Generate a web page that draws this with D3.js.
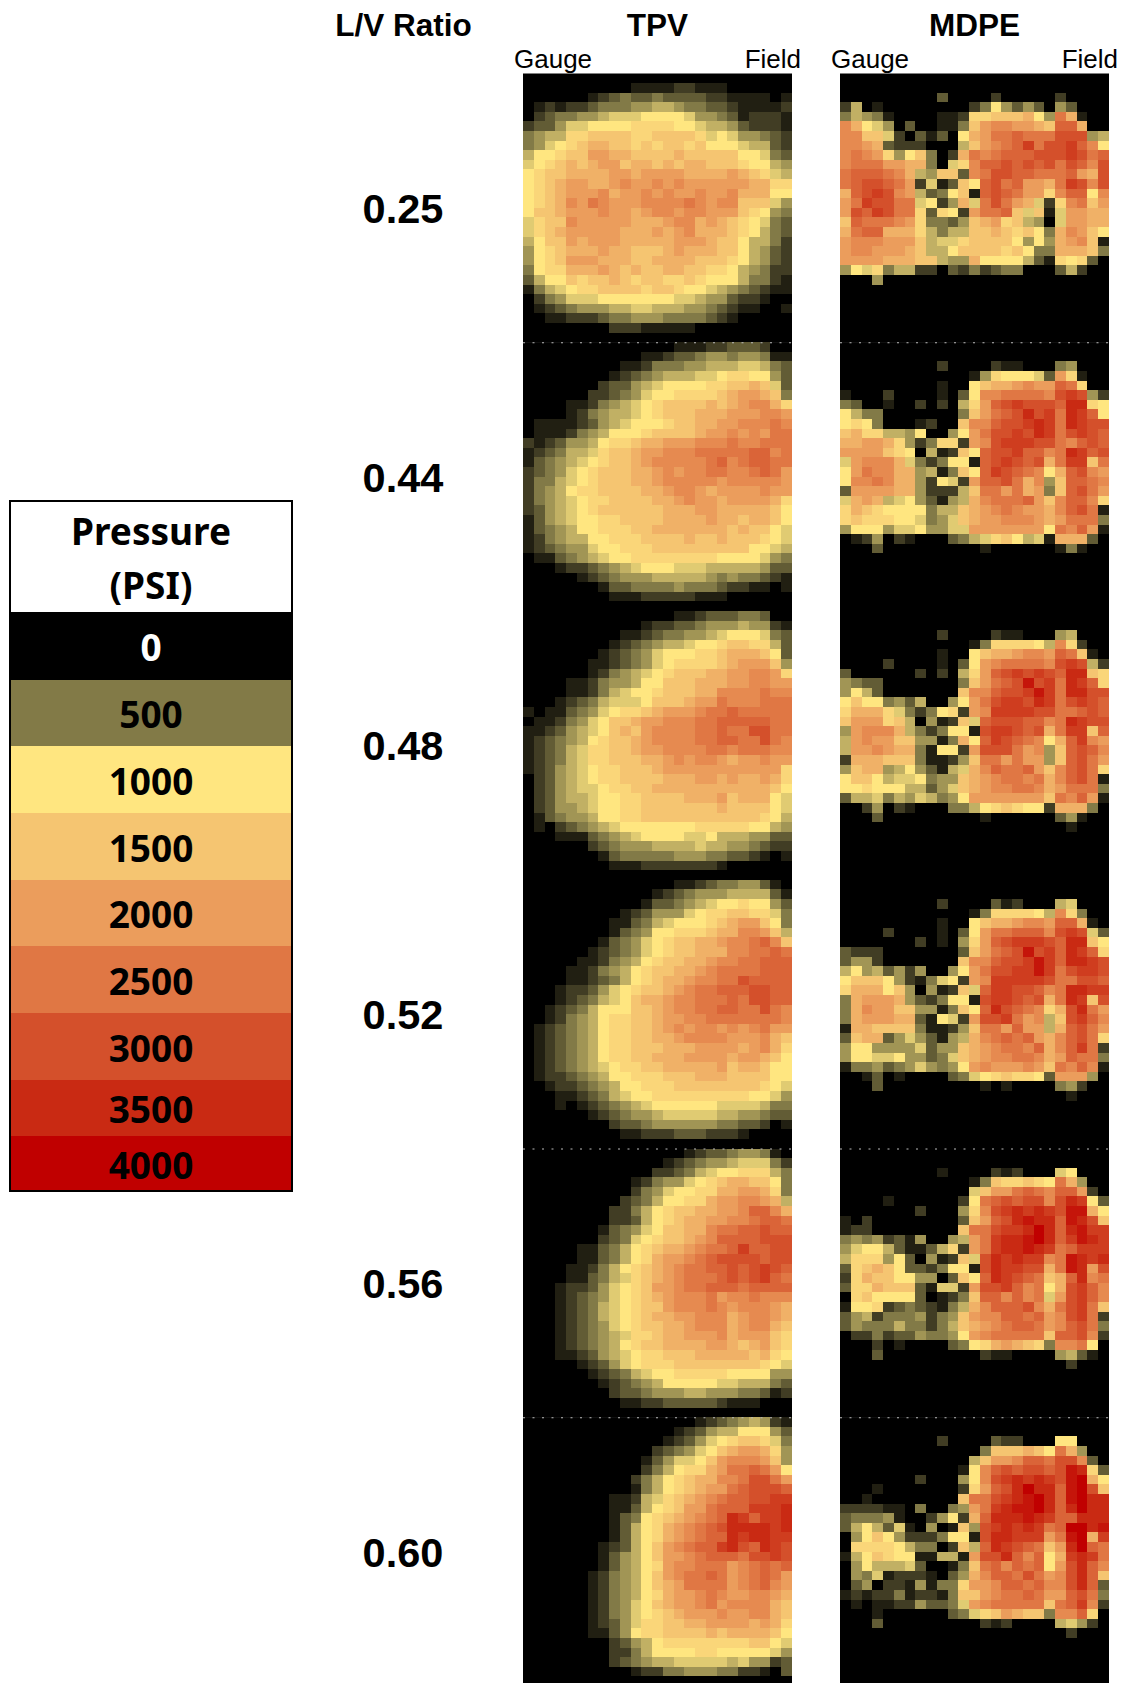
<!DOCTYPE html>
<html lang="en">
<head>
<meta charset="UTF-8">
<title>Pressure maps by L/V ratio</title>
<script src="https://d3js.org/d3.v7.min.js"></script>
<style>
    body { margin: 0; background: #fff; }
    svg { display: block; }
    .head { font-family: "Liberation Sans", Arial, sans-serif; font-weight: 700; }
    .side { font-family: "Liberation Sans", Arial, sans-serif; }
    .legend-text { font-family: "Noto Sans", sans-serif; font-weight: 700; font-size: 37px; }
</style>
</head>
<body>
<script>
// Each row string is one row of a map, each character an index into pressureSteps
const pressureSteps = [0, 125, 250, 375, 500, 625, 750, 875, 1000, 1250, 1500, 1750, 2000, 2250, 2500, 2750, 3000, 3250, 3500, 3750, 4000];
const stepKeys = "0123456789abcdefghijk";

const ratios = ["0.25", "0.44", "0.48", "0.52", "0.56", "0.60"];
const materials = ["TPV", "MDPE"];
const legendValues = [0, 500, 1000, 1500, 2000, 2500, 3000, 3500, 4000];
const legendColors = ["#000000", "#827a47", "#ffe680", "#f5c571", "#eb9d5c", "#e07744", "#d4502b", "#c92a13", "#c00000"];

const tpv025 = [
"0000000000000000000000000",
"0000000000111122111000000",
"0000001234334333322111101",
"0121223444556654433211112",
"0234455677788887554312221",
"2335778888999988766532221",
"456699aaaa99aaaa978755432",
"45789abbaa9a9aa9a88876632",
"6889aaccbbaaaabaaaaa88743",
"789ababccabbababbaaa98865",
"89aabbbbccbccccbbbbcba976",
"89abccbbcdccdcdccccccbb99",
"89abcccdbccdcdccdccdbbb88",
"89abdcedcccddddedcddaaa75",
"8aabcccdccbcddcddccca9854",
"79aadcccccbbbcddbcba98743",
"79abcccccbbbcbcdbbba98643",
"68aacbcccbbbbbcccbaa86642",
"589abbbcbbaaabcbbbaa86532",
"589acccbbbaabbbbaaa986532",
"4899bbbcbabaabbaa99865422",
"3688a9aaba9aa99a988864421",
"1467899aaaa9aa98876543211",
"0245777888888877655322100",
"0123455566776665543211001",
"0011222344555444432100000",
"0000000022211111000000000",
"0000000000000000000000000"];

const tpv044 = [
"0000000000000011122333200",
"0000000000011233455455411",
"0000000001124445566677643",
"0000000012345666778998853",
"0000000233567888899aaba73",
"000000223457889999abccba4",
"0000112456789aaaababcddb9",
"0000124566789aaabbbcccddc",
"01111235678889aabbccddded",
"011124568889aaaabccdcdcee",
"2123556899abbcccdddeddeee",
"12346679aabccdddeeeeeffde",
"13456789aabcdddddefdeffee",
"2345789aaabbcdcddeeddefec",
"2446789aaabbcdddddcdddddc",
"2456899aaaabbcddcbccccdcc",
"24567899aaaabbcdccbccccb9",
"2356789aaaaaabbbccbbbbba8",
"135678899aaaabbbbcbbabba8",
"1345688999aabbbbbbbabaa87",
"12456688999aaaabaabaaa987",
"123455788999aaaaaaaaa8876",
"0113456788999999998888754",
"0001223456788877766666533",
"0000012345556666654544321",
"0000000133444454443221101",
"0000000011122222111000000",
"0000000000000000000000000"];

const tpv048 = [
"0000000000000011233344300",
"0000000000012233455565521",
"0000000001123445567888743",
"0000000012345667889aa9963",
"000000012345788899abbba83",
"000000112345789999abccca5",
"00000012456789aaabbccddc9",
"0000112455688aaabbbccddcc",
"0000112467889aaabbddddedd",
"000123467778aaabccedddeee",
"10113457899abcccdeefeeeee",
"01124578aabccdddeefffffee",
"11235678abacddddeefeeggee",
"12345689aabcddddeeffeeged",
"12346799aabccddddeedeeedd",
"12346799aaabbcdcddcbccdcc",
"123567899aaabccccccccccc9",
"023567899aaaabbbccbcbbcb9",
"0235677899aabbbbbbbbbbba8",
"02356678899aaaabbbcabbb87",
"02355678899aaaaaaabaaaa87",
"01345568899aaaaaaaaaaa986",
"0102345678888888999998865",
"0001113456788887786665533",
"0000002345556666766554322",
"0000000134444455544332101",
"0000000011122222221000000",
"0000000000000000000000000"];

const tpv052 = [
"0000000000000011234455310",
"0000000000001234555666631",
"0000000000013345678898853",
"0000000001235557899aa9974",
"000000001134678889abcca84",
"00000000134588999abbddca6",
"00000001345789aabbcddefda",
"00000012345789aabbbddeefe",
"0000011245689aabbcddeefff",
"000011245689aabbcdeeeefff",
"000011234689abbcddeegffff",
"00012235789aabcdeefffggff",
"0001234678abbcddeeefeggff",
"0012346888aabcddeeffeeged",
"0012456899aabccddeeeeeeed",
"0123456899aabcdcddcdcdecc",
"0123456899aabbcddddcccdba",
"0123456899aaabbbccccbcdb9",
"0123456899aabbbccccbccba8",
"01234567899aabbbbbcabba88",
"0122345688999aaabbbaaaa88",
"00122345688999aaaaaaaa987",
"0001123467889999999998875",
"0001012345678888887777644",
"0000001234556777776655433",
"0000000023345555554433201",
"0000000001122233322210000",
"0000000000000000000000000"];

const tpv056 = [
"0000000000000001233455410",
"0000000000000123455677742",
"0000000000002234678899964",
"000000000012455789abbaa84",
"000000000024578899bbccb94",
"00000000023468899bccddcb6",
"00000000224689aabbccdffdb",
"00000000223689abbccddeffe",
"0000000134578aabbdeeffgff",
"0000000234789aabcdffffggg",
"000001134689abbcdeefhffgg",
"000001134689bccdefggggfgg",
"00001124689abcdeeffgfghgf",
"00001134679abcdeeefgfghfe",
"00012235789accdeefffeffff",
"00012345789abcdddecddeddd",
"00012346789aacdddedcdddcb",
"00012346789abbccdddbcddcb",
"00012345789aabbcdddbcddba",
"000123456799abbcccdbccca9",
"00012345689aabbbbccbabca9",
"0001123567899aaabbbbbab98",
"00000123578999aaaaaaaa987",
"0000001234678899999888855",
"0000000123456888887766643",
"0000000023345556655544312",
"0000000001122333332111000",
"0000000000000000000000000"];

const tpv060 = [
"0000000000000000123456521",
"0000000000000012356688853",
"00000000000001235789aa974",
"000000000000234578abccb95",
"00000000000135778acdddca5",
"00000000000246899bceefec8",
"000000000024689abbddeggec",
"000000000014689abccefgggf",
"00000000112679abcdeffgghh",
"00000000113689accefffhhhi",
"0000000013489abcdefihfhhi",
"0000000013689bcdefgiiiihi",
"0000000013689bcdeffihiihh",
"000000012368acdeffhigfihg",
"000000013568accdefffegghg",
"0000000135689cddeeecdefef",
"000000124568acdeefecdefec",
"000000124568abceeeecdefdc",
"0000001245689bccdedccddcb",
"000000124578abccdecddddba",
"0000001245789abcccdccddba",
"0000001235799aabbccccbcb9",
"0000001135899aaaababbbba8",
"000000002356899999999aa87",
"0000000022468888998888875",
"0000000023456677777675523",
"0000000000122445554422103",
"0000000000000000000000000"];

const mdpe025 = [
"0000000000000000000000000",
"0000000000000000000000000",
"0000000003000020000020000",
"2601000000002485353053000",
"46541000011299aaab85eb100",
"db8750300114acddccbaffb00",
"ddaa72031308bceefeeeggg56",
"ddcb32220006acdefhegghfd8",
"dedc958a402bedefffggghgef",
"deeeccbb4079dffgfgfgegfdg",
"efffedb65aa3deggffeeefcbg",
"efggfec2713a8fgefccbehgdg",
"bfghgdc6348a1fgfecc9dff8d",
"cehggee7825b7egecb729deac",
"cgfhgee93982ceefa7a17ccbb",
"afeeedc94435abc9a6507ccbb",
"beffbbb96466aaba9a84bdca8",
"cdddccca6779aaaa8585bcda1",
"cddcccba668aaaa9a844bbba4",
"ccccbbbaa655b888863198930",
"5879466220324234400036200",
"0005000000000000000000000",
"0000000000000000000000000",
"0000000000000000000000000",
"0000000000000000000000000",
"0000000000000000000000000",
"0000000000000000000000000",
"0000000000000000000000000"];

const mdpe044 = [
"0000000000000000000000000",
"0000000000000000000000000",
"0000000002000021100045000",
"00000000000015988873c9100",
"0000000001008abbcdccfe900",
"1000200001038ddeeeedghg52",
"4300100202069cfghgggfii98",
"864400000004acefgigheihf8",
"89840001200addfgghiheihgg",
"ab9966580058cegghgiheghgf",
"bbccb9524992cdghhhggedfgf",
"cccca980612a8fgghffdeihfg",
"7cdddb7424881fghgfgbehhae",
"8ceddbb5614a8fhgfed8bfgdc",
"8ddedbb52872cffgebd5affed",
"3ccccbb52226aeecebc4afgec",
"7bcb67853156bdeeefcadffd9",
"9ba98888466abcdedccbdfge1",
"9a999887457abccdddcbceee4",
"588857785577ccccccc8edfc1",
"012502100034679a8671bbb30",
"0003000000000100000014100",
"0000000000000000000000000",
"0000000000000000000000000",
"0000000000000000000000000",
"0000000000000000000000000",
"0000000000000000000000000",
"0000000000000000000000000"];

const mdpe048 = [
"0000000000000000000000000",
"0000000000000000000000000",
"0000000002000021100056000",
"00000000000014999986d9200",
"0000000001008abbcddcfea10",
"0000200001038cdeeeedghg62",
"3000000202069cfghghgfiia9",
"543300000004acefgjgheihf9",
"58630000000addfgghjheiigg",
"8a8845360058ceghhgiheghgf",
"9bbb97424892cdhhhhggeefgf",
"accc9a60512a7fgggffdeihgg",
"5cdddb6424881ghhgfgbehhaf",
"6cdccaa5514b8fhgfed8bfhdc",
"6ccdcbb41882cgggecd5afgfd",
"2bbbaaa41125aeececc5afgec",
"5abb56853167bdfeefcadfge9",
"8aa86778455abcdeedebdfge1",
"88988866357abcddeedbceee4",
"366746576458cccccccaedfc1",
"002502100044689a9882bbb40",
"0003000000000100000035100",
"0000000000000000000001000",
"0000000000000000000000000",
"0000000000000000000000000",
"0000000000000000000000000",
"0000000000000000000000000",
"0000000000000000000000000"];

const mdpe052 = [
"0000000000000000000000000",
"0000000000000000000000000",
"0000000002000031200067000",
"00000000000014999986d9400",
"0000000001008abbcddcffb10",
"0000200001038ceefffdghg73",
"0000000201059cfghhhgfiia8",
"322200000003acefgjghfihf9",
"35520000000addfgghjhfiihg",
"685635250058cegghhjheghhg",
"8aaa85214782cdhhhhhgeeggf",
"9bbb8a50512a7fhhggfdeiihh",
"4bcccb5324881ghhgfgbeihag",
"4bdccaa5514a8figfed9bgiec",
"4bcccbb31872cgghecd6aghfd",
"1bbaaaa41125aeecfcc6bfgec",
"3abb35753156bdefefcbdfge9",
"58855557355abcdeedfbdfhe2",
"58877855347abcddeedbcfee4",
"144534575458cdcccdcaedfd1",
"001301000034789a9983ccc50",
"0003000000000101000045200",
"0000000000000000000001000",
"0000000000000000000000000",
"0000000000000000000000000",
"0000000000000000000000000",
"0000000000000000000000000",
"0000000000000000000000000"];

const mdpe056 = [
"0000000000000000000000000",
"0000000000000000000000000",
"0000000001000021200078000",
"00000000000014a99a98eb500",
"0000000000007accefedffc20",
"0000100000028efgfggdgih83",
"0000000200059dghihihgjjb8",
"102000000003acfgijiifjiga",
"12200000000aeeghhikifijhh",
"454523150056cehiijkifhjih",
"578863113692cehiijihefhhh",
"69995830512a7gihihhdejihi",
"39aba83324881gihhggbejicg",
"29baa885503a8fihgfeabfide",
"399baaa31772cgghfde8bghfd",
"09a888830124affdfde7cghfd",
"188923432146bdfffgdbeghea",
"35624445245acddffefcdghe2",
"35444644246abcdeffecdfge4",
"022423354458cdeeeeeaffgd2",
"00020100003489bcba94dde80",
"0003000000000211000056310",
"0000000000000000000002000",
"0000000000000000000000000",
"0000000000000000000000000",
"0000000000000000000000000",
"0000000000000000000000000",
"0000000000000000000000000"];

const mdpe060 = [
"0000000000000000000000000",
"0000000000000000000000000",
"0000000002000032200088000",
"00000000000004aaaba8eb500",
"0000000000006accdffeggd30",
"0000000000018dfgfggfgji93",
"0000000200058dghihihgjkb8",
"0001000000029cfgikiifjkga",
"00100000000aeeghijkifjkii",
"222211040045cehijjkifikii",
"344451002582bfiiijihffiii",
"36863710501a5ghihihefkkij",
"058a852224881giihhhcejkbh",
"09999864402a6fihgfeacikfe",
"168a98811661cggifdf8bhihe",
"058666730014aefdfef8cgifd",
"054712221035bdffegecdgifa",
"035022151449ccdffefddgif3",
"12122412214aacdeefeccfge4",
"010112253347cdeeeeeaefhd2",
"00010000003479acbaa4ddf90",
"0003000000000212000067520",
"0000000000000000000002000",
"0000000000000000000000000",
"0000000000000000000000000",
"0000000000000000000000000",
"0000000000000000000000000",
"0000000000000000000000000"];

const mapRows = {
    TPV: [tpv025, tpv044, tpv048, tpv052, tpv056, tpv060],
    MDPE: [mdpe025, mdpe044, mdpe048, mdpe052, mdpe056, mdpe060]
};

// layout
const panelTop = 73.5, panelH = 268.75, panelW = 269;
const panelLeft = { TPV: 523, MDPE: 840 };
const dottedPanels = ["0.44", "0.56", "0.60"];
const legendEdges = [612, 680, 746, 813, 880, 946, 1013, 1080, 1136, 1191];

const svg = d3.select("body").append("svg")
    .attr("width", 1125)
    .attr("height", 1683);

const color = d3.scaleLinear()
    .domain(legendValues)
    .range(legendColors)
    .clamp(true);

const x = d3.scaleBand().domain(d3.range(25)).range([0, panelW]);
const y = d3.scaleBand().domain(d3.range(28)).range([0, panelH]);
const rowY = d3.scaleBand().domain(ratios).range([panelTop, panelTop + panelH * ratios.length]);

materials.forEach(m => {
    const col = svg.append("g").attr("transform", `translate(${panelLeft[m]},0)`);

    const panels = col.selectAll("g.panel")
        .data(ratios)
        .join("g")
        .attr("class", "panel")
        .attr("transform", d => `translate(0,${rowY(d)})`);

    panels.append("rect")
        .attr("width", panelW)
        .attr("height", panelH + 0.5)
        .attr("fill", "#000");

    panels.each(function (ratio, i) {
        const cells = [];
        mapRows[m][i].forEach((row, r) => {
            row.split("").slice(0, 25).forEach((ch, c) => {
                const psi = pressureSteps[stepKeys.indexOf(ch)];
                if (psi > 0) cells.push({ r, c, psi });
            });
        });
        d3.select(this).selectAll("rect.cell")
            .data(cells)
            .join("rect")
            .attr("class", "cell")
            .attr("x", d => x(d.c))
            .attr("y", d => y(d.r))
            .attr("width", x.bandwidth())
            .attr("height", y.bandwidth())
            .attr("shape-rendering", "crispEdges")
            .attr("fill", d => color(d.psi));
    });

    // faint dashed seams where the maps were pasted together
    panels.filter(d => dottedPanels.includes(d))
        .append("line")
        .attr("x1", 0)
        .attr("x2", panelW)
        .attr("y1", 0.5)
        .attr("y2", 0.5)
        .attr("stroke", "#bbb")
        .attr("stroke-width", 1)
        .attr("stroke-dasharray", "2 7.5");

    col.append("text")
        .attr("class", "head")
        .attr("x", panelW / 2)
        .attr("y", 36)
        .attr("text-anchor", "middle")
        .attr("font-size", 31.5)
        .text(m);

    col.append("text")
        .attr("class", "side")
        .attr("x", -9)
        .attr("y", 67.5)
        .attr("font-size", 26)
        .text("Gauge");

    col.append("text")
        .attr("class", "side")
        .attr("x", panelW + 9)
        .attr("y", 67.5)
        .attr("text-anchor", "end")
        .attr("font-size", 26)
        .text("Field");
});

// L/V ratio column
svg.append("text")
    .attr("class", "head")
    .attr("x", 403.5)
    .attr("y", 36)
    .attr("text-anchor", "middle")
    .attr("font-size", 31.5)
    .text("L/V Ratio");

svg.selectAll("text.ratio")
    .data(ratios)
    .join("text")
    .attr("class", "head ratio")
    .attr("x", 403)
    .attr("y", d => rowY(d) + rowY.bandwidth() / 2)
    .attr("dy", "0.36em")
    .attr("text-anchor", "middle")
    .attr("font-size", 41.5)
    .text(d => d);

// legend
const legend = svg.append("g");

legend.selectAll("rect")
    .data(legendValues)
    .join("rect")
    .attr("x", 10)
    .attr("y", (d, i) => legendEdges[i])
    .attr("width", 282)
    .attr("height", (d, i) => legendEdges[i + 1] - legendEdges[i])
    .attr("fill", d => color(d));

legend.selectAll("text.value")
    .data(legendValues)
    .join("text")
    .attr("class", "legend-text value")
    .attr("x", 151)
    .attr("y", (d, i) => (legendEdges[i] + legendEdges[i + 1]) / 2 + 2)
    .attr("dy", "0.36em")
    .attr("text-anchor", "middle")
    .attr("fill", d => d === 0 ? "#fff" : "#000")
    .text(d => d);

legend.selectAll("text.title")
    .data(["Pressure", "(PSI)"])
    .join("text")
    .attr("class", "legend-text title")
    .attr("x", 151)
    .attr("y", (d, i) => 532 + i * 54)
    .attr("dy", "0.36em")
    .attr("text-anchor", "middle")
    .text(d => d);

legend.append("rect")
    .attr("x", 10)
    .attr("y", 501)
    .attr("width", 282)
    .attr("height", 690)
    .attr("fill", "none")
    .attr("stroke", "#000")
    .attr("stroke-width", 2);
</script>
</body>
</html>
